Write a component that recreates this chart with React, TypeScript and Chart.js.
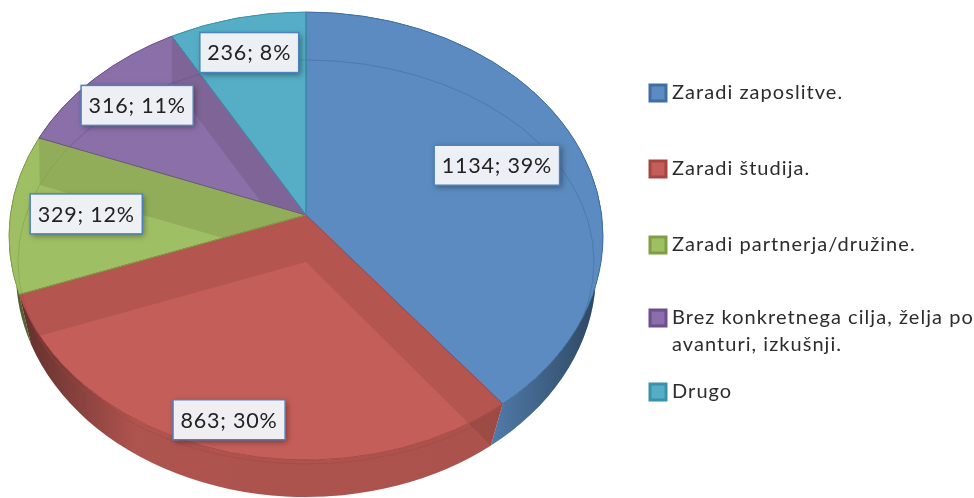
import React, { useEffect, useRef } from "react";
import { Chart, registerables } from "chart.js";

Chart.register(...registerables);

const categories = ["Zaradi zaposlitve.", "Zaradi študija.", "Zaradi partnerja/družine.", "Brez konkretnega cilja, želja po avanturi, izkušnji.", "Drugo"];
const legendLines = [["Zaradi zaposlitve."], ["Zaradi študija."], ["Zaradi partnerja/družine."], ["Brez konkretnega cilja, želja po", "avanturi, izkušnji."], ["Drugo"]];
const values = [1134, 863, 329, 316, 236];
const percents = [39, 30, 12, 11, 8];
const colors = ["#5B8BC0", "#C45E58", "#9FBF65", "#8A6FA9", "#55AEC6"];
const edgeColors = ["#3F6EA3", "#A84543", "#7F9F45", "#6B4F8E", "#3A92AA"];
const labelReach = [0.68, 0.95, 0.74, 0.75, 0.75];
const legendRows = [93, 169, 245, 318, 392];

const FONT = "Lato, 'Open Sans', sans-serif";
const TOP = { cx: 306, cy: 236, rx: 297, ry: 224, ax: 306, ay: 215 };
const FLOOR = { cx: 306, cy: 262, rx: 288, ry: 202, ax: 306, ay: 262 };
const BASE = { cx: 306, cy: 273, rx: 290, ry: 224, ax: 306, ay: 268 };

type Ell = typeof TOP;

function hit(e: Ell, a: number) {
  const dx = Math.cos(a) * TOP.rx, dy = Math.sin(a) * TOP.ry;
  const ox = (e.ax - e.cx) / e.rx, oy = (e.ay - e.cy) / e.ry;
  const ux = dx / e.rx, uy = dy / e.ry;
  const A = ux * ux + uy * uy, B = 2 * (ox * ux + oy * uy), C = ox * ox + oy * oy - 1;
  const t = (-B + Math.sqrt(B * B - 4 * A * C)) / (2 * A);
  const x = e.ax + t * dx, y = e.ay + t * dy;
  return { x, y, p: Math.atan2((y - e.cy) / e.ry, (x - e.cx) / e.rx) };
}

function wedge(ctx: CanvasRenderingContext2D, e: Ell, a0: number, a1: number) {
  const s = hit(e, a0), f = hit(e, a1);
  ctx.moveTo(e.ax, e.ay);
  ctx.lineTo(s.x, s.y);
  ctx.ellipse(e.cx, e.cy, e.rx, e.ry, 0, s.p, f.p, false);
  ctx.closePath();
}

function wall(ctx: CanvasRenderingContext2D, a0: number, a1: number) {
  const s = hit(TOP, a0), f = hit(TOP, a1), bs = hit(BASE, a0), bf = hit(BASE, a1);
  ctx.moveTo(s.x, s.y);
  ctx.ellipse(TOP.cx, TOP.cy, TOP.rx, TOP.ry, 0, s.p, f.p, false);
  ctx.lineTo(bf.x, bf.y);
  ctx.ellipse(BASE.cx, BASE.cy, BASE.rx, BASE.ry, 0, bf.p, bs.p, true);
  ctx.closePath();
}

const piePainter = {
  id: "piePainter",
  beforeDatasetsDraw(chart: any) {
    const ctx: any = chart.ctx;
    const arcs = chart.getDatasetMeta(0).data.map((el: any) => el.getProps(["startAngle", "endAngle"], true));

    // side walls
    const shade = ctx.createLinearGradient(20, 0, 600, 0);
    shade.addColorStop(0, "rgba(0,0,0,0.5)");
    shade.addColorStop(0.2, "rgba(0,0,0,0.11)");
    shade.addColorStop(0.82, "rgba(0,0,0,0.13)");
    shade.addColorStop(1, "rgba(0,0,0,0.5)");
    arcs.forEach((arc: any, i: number) => {
      ctx.beginPath();
      wall(ctx, arc.startAngle, arc.endAngle);
      ctx.fillStyle = colors[i];
      ctx.fill();
      ctx.fillStyle = shade;
      ctx.fill();
    });

    // top faces
    arcs.forEach((arc: any, i: number) => {
      ctx.beginPath();
      wedge(ctx, TOP, arc.startAngle, arc.endAngle);
      ctx.fillStyle = colors[i];
      ctx.fill();
    });

    // translucent inner walls, floor arc
    arcs.forEach((arc: any, i: number) => {
      const mid = (arc.startAngle + arc.endAngle) / 2;
      ctx.save();
      ctx.beginPath();
      wedge(ctx, TOP, arc.startAngle, arc.endAngle);
      if (Math.sin(mid) > 0.2) wall(ctx, arc.startAngle, arc.endAngle);
      ctx.clip();
      [arc.startAngle, arc.endAngle].forEach((a: number) => {
        const t = hit(TOP, a);
        const low = Math.cos(a) > 0 ? hit(BASE, a) : hit(FLOOR, a);
        ctx.beginPath();
        ctx.moveTo(TOP.ax, TOP.ay);
        ctx.lineTo(t.x, t.y);
        ctx.lineTo(low.x, low.y);
        ctx.lineTo(FLOOR.ax, FLOOR.ay);
        ctx.closePath();
        ctx.fillStyle = "rgba(40,20,0,0.1)";
        ctx.fill();
      });
      ctx.beginPath();
      ctx.ellipse(FLOOR.cx, FLOOR.cy, FLOOR.rx, FLOOR.ry, 0, 0, Math.PI * 2);
      ctx.strokeStyle = edgeColors[i];
      ctx.globalAlpha = 0.55;
      ctx.lineWidth = 1;
      ctx.stroke();
      ctx.restore();
    });

    // outlines
    arcs.forEach((arc: any, i: number) => {
      ctx.beginPath();
      wedge(ctx, TOP, arc.startAngle, arc.endAngle);
      ctx.strokeStyle = edgeColors[i];
      ctx.lineWidth = 1;
      ctx.stroke();
    });

    // data labels
    ctx.font = `21.5px ${FONT}`;
    ctx.letterSpacing = "0.8px";
    ctx.textAlign = "center";
    ctx.textBaseline = "middle";
    arcs.forEach((arc: any, i: number) => {
      const mid = (arc.startAngle + arc.endAngle) / 2;
      const x = TOP.ax + Math.cos(mid) * TOP.rx * labelReach[i];
      const y = TOP.ay + Math.sin(mid) * TOP.ry * labelReach[i];
      const text = `${values[i]}; ${percents[i]}%`;
      const w = ctx.measureText(text).width + 15;
      const h = 40;
      ctx.save();
      ctx.shadowColor = "rgba(0,0,0,0.4)";
      ctx.shadowBlur = 6;
      ctx.shadowOffsetX = 2;
      ctx.shadowOffsetY = 2;
      ctx.fillStyle = "rgba(243,245,249,0.97)";
      ctx.fillRect(x - w / 2, y - h / 2, w, h);
      ctx.restore();
      ctx.strokeStyle = "#4F81BD";
      ctx.lineWidth = 1.5;
      ctx.strokeRect(x - w / 2, y - h / 2, w, h);
      ctx.fillStyle = "#222222";
      ctx.fillText(text, x, y + 1);
    });

    // legend
    ctx.textAlign = "left";
    ctx.font = `20px ${FONT}`;
    ctx.letterSpacing = "1.05px";
    legendLines.forEach((lines, i) => {
      const y = legendRows[i];
      ctx.fillStyle = colors[i];
      ctx.fillRect(649, y - 9, 18, 18);
      ctx.strokeStyle = edgeColors[i];
      ctx.lineWidth = 3;
      ctx.strokeRect(650, y - 8, 16, 16);
      ctx.fillStyle = "#2c2c2c";
      lines.forEach((line, j) => ctx.fillText(line, 672, y + j * 27));
    });
    ctx.letterSpacing = "0px";
    return false;
  },
};

export default function App() {
  const ref = useRef<HTMLCanvasElement>(null);
  useEffect(() => {
    const chart = new Chart(ref.current!, {
      type: "pie",
      data: {
        labels: categories,
        datasets: [{ data: values, backgroundColor: colors, borderColor: edgeColors }],
      },
      options: {
        animation: false,
        responsive: false,
        plugins: { legend: { display: false }, tooltip: { enabled: false } },
      },
      plugins: [piePainter],
    } as any);
    return () => chart.destroy();
  }, []);
  return (
    <canvas
      ref={ref}
      width={974}
      height={498}
      style={{ position: "fixed", left: 0, top: 0, width: 974, height: 498, background: "#fff", filter: "blur(0.6px)" }}
    />
  );
}
